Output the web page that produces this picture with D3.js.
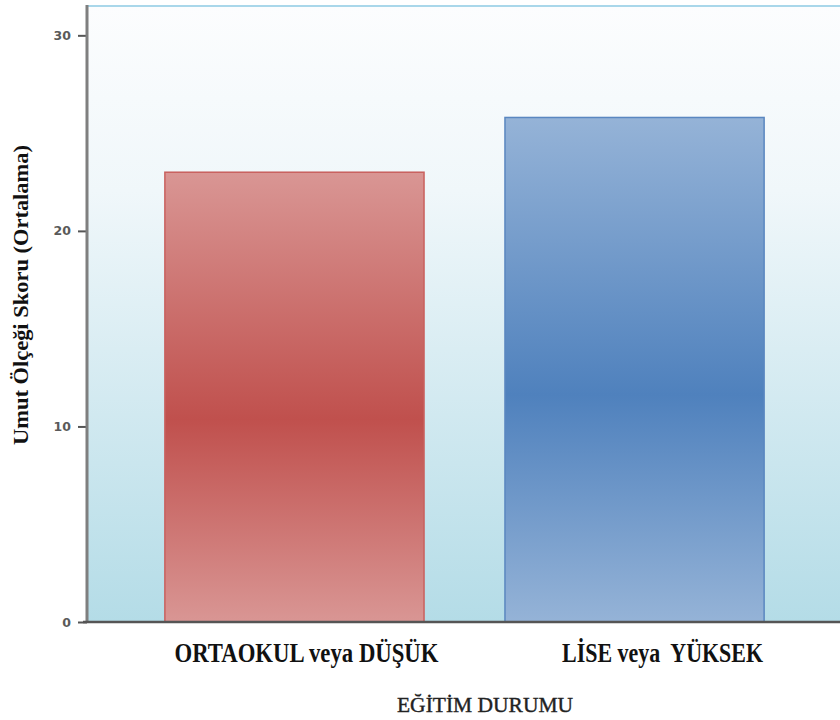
<!DOCTYPE html>
<html>
<head>
<meta charset="utf-8">
<script src="https://cdn.jsdelivr.net/npm/d3@7"></script>
<style>
  html, body { margin: 0; padding: 0; background: #ffffff; }
  svg { display: block; }
  text { white-space: pre; }
</style>
</head>
<body>
<svg id="chart" width="840" height="720"></svg>
<script>
// Mean hope-scale score by education level
const categories = ["ORTAOKUL veya DÜŞÜK", "LİSE veya  YÜKSEK"];
const values = [23.0, 25.8];
const yTicks = [0, 10, 20, 30];
const yTitle = "Umut Ölçeği Skoru (Ortalama)";
const xTitle = "EĞİTİM DURUMU";

const svg = d3.select("#chart");
const W = 840, H = 720;
const plotLeft = 87, plotTop = 6, plotBottom = 622;

const x = d3.scaleBand()
  .domain(categories)
  .range([plotLeft, 842])
  .paddingInner(0.238)
  .paddingOuter(0.229);

const y = d3.scaleLinear()
  .domain([0, 31.5])
  .range([plotBottom, plotTop]);

const defs = svg.append("defs");

// plot background: white fading to pale blue
const bg = defs.append("linearGradient")
  .attr("id", "bgGrad").attr("x1", 0).attr("y1", 0).attr("x2", 0).attr("y2", 1);
bg.append("stop").attr("offset", "0%").attr("stop-color", "#fcfdfe");
bg.append("stop").attr("offset", "30%").attr("stop-color", "#f0f7fa");
bg.append("stop").attr("offset", "100%").attr("stop-color", "#b4dce7");

// bar fills: light at the ends, saturated a little below the middle
const barColors = [
  { light: "#d99694", dark: "#c0504d", stroke: "#c9605e" },
  { light: "#95b3d7", dark: "#4f81bd", stroke: "#5a87c0" }
];
barColors.forEach((c, i) => {
  const g = defs.append("linearGradient")
    .attr("id", "barGrad" + i).attr("x1", 0).attr("y1", 0).attr("x2", 0).attr("y2", 1);
  g.append("stop").attr("offset", "0%").attr("stop-color", c.light);
  g.append("stop").attr("offset", "55%").attr("stop-color", c.dark);
  g.append("stop").attr("offset", "100%").attr("stop-color", c.light);
});

svg.append("rect")
  .attr("x", plotLeft).attr("y", plotTop)
  .attr("width", W - plotLeft).attr("height", plotBottom - plotTop)
  .attr("fill", "url(#bgGrad)");

// top border of the plot area
svg.append("line")
  .attr("x1", plotLeft).attr("x2", W)
  .attr("y1", plotTop).attr("y2", plotTop)
  .attr("stroke", "#a9d7ea").attr("stroke-width", 2);

// bars
svg.selectAll("rect.bar")
  .data(values)
  .join("rect")
  .attr("class", "bar")
  .attr("x", (d, i) => x(categories[i]))
  .attr("y", d => y(d))
  .attr("width", x.bandwidth())
  .attr("height", d => y(0) - y(d))
  .attr("fill", (d, i) => `url(#barGrad${i})`)
  .attr("stroke", (d, i) => barColors[i].stroke)
  .attr("stroke-width", 1.5);

// y axis
const yAxis = d3.axisLeft(y)
  .tickValues(yTicks)
  .tickSize(9)
  .tickPadding(7)
  .tickFormat(d3.format("d"));

const yg = svg.append("g")
  .attr("transform", `translate(${plotLeft},0)`)
  .call(yAxis);
yg.select(".domain").remove();
yg.selectAll(".tick line").attr("stroke", "#555").attr("stroke-width", 2);
yg.selectAll(".tick text")
  .attr("fill", "#5a5a5a")
  .style("font-family", "'DejaVu Sans', sans-serif")
  .style("font-weight", "bold")
  .style("font-size", "12.5px");

svg.append("line")
  .attr("x1", plotLeft).attr("x2", plotLeft)
  .attr("y1", plotTop - 1).attr("y2", plotBottom + 1)
  .attr("stroke", "#7f7f7f").attr("stroke-width", 3);

// x axis baseline
svg.append("line")
  .attr("x1", plotLeft - 4).attr("x2", W)
  .attr("y1", y(0)).attr("y2", y(0))
  .attr("stroke", "#555").attr("stroke-width", 2.5);

// category labels
const labelShift = [12, 28];
const labelLen = [264, 201];
svg.selectAll("text.cat")
  .data(categories)
  .join("text")
  .attr("class", "cat")
  .attr("x", (d, i) => x(d) + x.bandwidth() / 2 + labelShift[i])
  .attr("y", 662)
  .attr("text-anchor", "middle")
  .attr("textLength", (d, i) => labelLen[i])
  .attr("lengthAdjust", "spacingAndGlyphs")
  .style("font-family", "'Liberation Serif', 'Times New Roman', serif")
  .style("font-weight", "bold")
  .style("font-size", "27px")
  .attr("fill", "#111")
  .text(d => d);

// axis titles
svg.append("text")
  .attr("x", 485).attr("y", 712)
  .attr("text-anchor", "middle")
  .attr("textLength", 176)
  .attr("lengthAdjust", "spacingAndGlyphs")
  .style("font-family", "'Liberation Serif', 'Times New Roman', serif")
  .style("font-size", "22px")
  .attr("fill", "#222")
  .attr("stroke", "#222")
  .attr("stroke-width", 0.4)
  .text(xTitle);

svg.append("text")
  .attr("transform", "translate(28,295) rotate(-90)")
  .attr("text-anchor", "middle")
  .attr("textLength", 300)
  .attr("lengthAdjust", "spacingAndGlyphs")
  .style("font-family", "'Liberation Serif', 'Times New Roman', serif")
  .style("font-weight", "bold")
  .style("font-size", "20px")
  .attr("fill", "#111")
  .text(yTitle);
</script>
</body>
</html>
